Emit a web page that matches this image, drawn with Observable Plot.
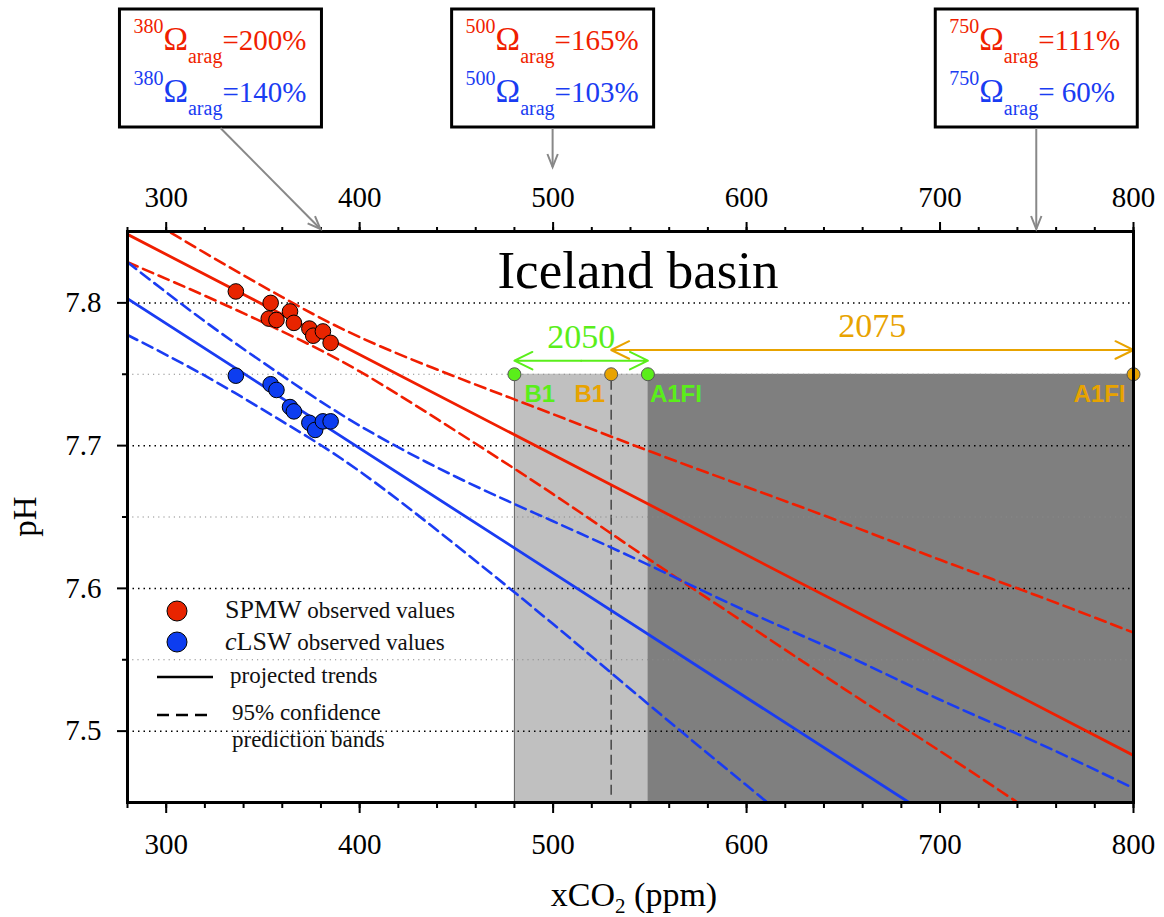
<!DOCTYPE html>
<html><head><meta charset="utf-8">
<script src="https://cdn.jsdelivr.net/npm/d3@7"></script>
<script src="https://cdn.jsdelivr.net/npm/@observablehq/plot@0.6"></script>
<style>html,body{margin:0;padding:0;background:#fff} svg{display:block}
g[aria-label$="tick label"], g[aria-label$="tick label"] text { font-family: 'Liberation Serif', 'Times New Roman', serif !important; }
</style>
</head><body><div id="chart"></div>
<script>
// ---- Observed values ----
const spmwCO2 = [336, 354, 364, 353, 357, 366, 374, 376, 381, 385];
const spmwPH  = [7.808, 7.800, 7.794, 7.789, 7.788, 7.786, 7.782, 7.777, 7.780, 7.772];
const clswCO2 = [336, 354, 357, 364, 366, 374, 377, 381, 385];
const clswPH  = [7.749, 7.743, 7.739, 7.727, 7.724, 7.716, 7.711, 7.717, 7.717];

// ---- Projected trends ----
const spmwTrendCO2 = [280, 800];
const spmwTrendPH  = [7.848, 7.483];
const clswTrendCO2 = [280, 684];
const clswTrendPH  = [7.803, 7.450];

// ---- 95% prediction bands ----
const bandCO2   = [280, 320, 360, 400, 450, 500, 550, 600, 650, 700, 750, 800];
const spmwUpper = [7.8675, 7.835, 7.804, 7.776, 7.748, 7.722, 7.696, 7.671, 7.646, 7.620, 7.595, 7.569];
const spmwLower = [7.8285, 7.805, 7.780, 7.752, 7.710, 7.666, 7.620, 7.575, 7.530, 7.486, 7.441, null];
const clswUpper = [7.8285, 7.787, 7.749, 7.714, 7.678, 7.647, 7.616, 7.584, 7.554, 7.522, 7.492, 7.460];
const clswLower = [7.7775, 7.749, 7.717, 7.682, 7.630, 7.575, 7.518, 7.462, 7.406, null, null, null];

// ---- Scenario zones / points ----
const zoneFrom = [480, 549];
const zoneTo   = [549, 800];
const zoneFill = ["#c0c0c0", "#7f7f7f"];
const scenCO2   = [480, 549, 530, 800];
const scenLabel = ["B1", "A1FI", "B1", "A1FI"];
const scenYear  = ["2050", "2050", "2075", "2075"];
const scenPH = 7.75;
const periodLabel = ["2050", "2075"];
const periodFrom  = [480, 530];
const periodTo    = [549, 800];
const periodPH    = [7.7595, 7.767];

// ---- Saturation boxes ----
const boxCO2  = [380, 500, 750];
const boxRed  = ["=200%", "=165%", "=111%"];
const boxBlue = ["=140%", "=103%", "= 60%"];

// ---- Ticks ----
const xMajor = [300, 400, 500, 600, 700, 800];
const xMinor = d3.range(280, 801, 20);
const yMajor = [7.5, 7.6, 7.7, 7.8];
const yMinor = [7.55, 7.65, 7.75];

const RED = "#f01e00", BLUE = "#1a3cf2", GREEN = "#5aee1a", ORANGE = "#e8a300";
const yearColor = {"2050": GREEN, "2075": ORANGE};
const SERIF = "'Liberation Serif', 'Times New Roman', serif";
const SANS = "'Liberation Sans', Arial, sans-serif";

const band = (vals) => bandCO2.map((c, i) => ({co2: c, ph: vals[i]}));
const pts = (xs, ys) => xs.map((c, i) => ({co2: c, ph: ys[i]}));
const dashed = {strokeWidth: 2.6, strokeDasharray: "11,6", curve: "natural", clip: true};
const scen = scenCO2.map((c, i) => ({co2: c, label: scenLabel[i], color: yearColor[scenYear[i]], i}));
const scenText = {x: "co2", y: () => scenPH, text: "label", fill: "color", fontSize: 24, fontWeight: "bold",
  fontFamily: SANS, lineAnchor: "top", dy: 11};
const axText = {fontSize: 29, fontFamily: SERIF, strokeWidth: 2};

const plot = Plot.plot({
  width: 1164, height: 917,
  marginLeft: 127, marginRight: 31, marginTop: 231, marginBottom: 115,
  x: {domain: [280, 800], label: null},
  y: {domain: [7.45, 7.85], label: null},
  color: {type: "identity"},
  style: {fontFamily: SERIF, background: "white", color: "black"},
  marks: [
    Plot.rect(zoneFrom, {x1: d => d, x2: (d, i) => zoneTo[i], y1: 7.45, y2: scenPH, fill: (d, i) => zoneFill[i]}),
    Plot.ruleX([zoneFrom[0]], {y1: 7.45, y2: scenPH, stroke: "#666", strokeWidth: 1}),
    Plot.ruleX([scenCO2[2]], {y1: 7.455, y2: scenPH, stroke: "#333", strokeWidth: 1.3, strokeDasharray: "10,5"}),
    Plot.ruleY(yMinor, {stroke: "#8a8a8a", strokeWidth: 1.2, strokeDasharray: "1.2,4"}),
    Plot.ruleY(yMajor, {stroke: "black", strokeWidth: 1.5, strokeDasharray: "1.5,4"}),
    Plot.line(band(spmwUpper), {x: "co2", y: "ph", stroke: RED, ...dashed}),
    Plot.line(band(spmwLower), {x: "co2", y: "ph", stroke: RED, ...dashed}),
    Plot.line(band(clswUpper), {x: "co2", y: "ph", stroke: BLUE, ...dashed}),
    Plot.line(band(clswLower), {x: "co2", y: "ph", stroke: BLUE, ...dashed}),
    Plot.line(pts(spmwTrendCO2, spmwTrendPH), {x: "co2", y: "ph", stroke: RED, strokeWidth: 2.8, clip: true}),
    Plot.line(pts(clswTrendCO2, clswTrendPH), {x: "co2", y: "ph", stroke: BLUE, strokeWidth: 2.8, clip: true}),
    Plot.dot(pts(spmwCO2, spmwPH), {x: "co2", y: "ph", r: 7.8, fill: "#e82400", stroke: "black", strokeWidth: 1}),
    Plot.dot(pts(clswCO2, clswPH), {x: "co2", y: "ph", r: 7.8, fill: "#0d3df0", stroke: "black", strokeWidth: 1}),
    Plot.arrow(periodLabel, {x1: (d, i) => (periodFrom[i] + periodTo[i]) / 2, x2: (d, i) => periodFrom[i],
      y1: (d, i) => periodPH[i], y2: (d, i) => periodPH[i], stroke: d => yearColor[d], strokeWidth: 2, headLength: 15, headAngle: 52}),
    Plot.arrow(periodLabel, {x1: (d, i) => (periodFrom[i] + periodTo[i]) / 2, x2: (d, i) => periodTo[i],
      y1: (d, i) => periodPH[i], y2: (d, i) => periodPH[i], stroke: d => yearColor[d], strokeWidth: 2, headLength: 15, headAngle: 52}),
    Plot.text(periodLabel, {x: (d, i) => (periodFrom[i] + periodTo[i]) / 2, y: (d, i) => periodPH[i],
      text: d => d, fill: d => yearColor[d], fontSize: 34, fontFamily: SERIF, lineAnchor: "bottom", dy: -13}),
    Plot.dot(scen, {x: "co2", y: () => scenPH, r: 6.5, fill: "color", stroke: "#555", strokeWidth: 1}),
    Plot.text(scen.filter(d => d.i === 0), {...scenText, textAnchor: "start", dx: 10}),
    Plot.text(scen.filter(d => d.i === 1), {...scenText, textAnchor: "start", dx: 2}),
    Plot.text(scen.filter(d => d.i === 2), {...scenText, textAnchor: "end", dx: -6}),
    Plot.text(scen.filter(d => d.i === 3), {...scenText, textAnchor: "end", dx: -8}),
    Plot.axisX(xMinor, {anchor: "bottom", tickSize: 6, tickFormat: () => "", strokeWidth: 2}),
    Plot.axisX(xMajor, {anchor: "bottom", tickSize: 11, tickPadding: 20, ...axText}),
    Plot.axisX(xMinor, {anchor: "top", tickSize: 5, tickFormat: () => "", strokeWidth: 2}),
    Plot.axisX(xMajor, {anchor: "top", tickSize: 10, tickPadding: 15, ...axText}),
    Plot.axisY(yMinor, {anchor: "left", tickSize: 5, tickFormat: () => "", strokeWidth: 2}),
    Plot.axisY(yMajor, {anchor: "left", tickSize: 10, tickPadding: 16, ...axText, tickFormat: d3.format(".1f")}),
    Plot.frame({stroke: "black", strokeWidth: 3})
  ]
});
document.getElementById("chart").append(plot);

const svg = d3.select(plot);
const sx = plot.scale("x"), sy = plot.scale("y");
const X = v => sx.apply(v), Y = v => sy.apply(v);
const yTop = Y(7.85), yBot = Y(7.45), xLeft = X(280), xRight = X(800);
const txt = (sel) => sel.append("text").style("font-family", SERIF).attr("text-anchor", "start");

// Title
txt(svg).attr("x", (xLeft + xRight) / 2 + 8).attr("y", yTop + 57)
  .attr("text-anchor", "middle").attr("font-size", 53).text("Iceland basin");

// Axis labels
const xl = txt(svg).attr("x", (xLeft + xRight) / 2 + 4).attr("y", 906)
  .attr("text-anchor", "middle").attr("font-size", 34);
xl.append("tspan").text("xCO");
xl.append("tspan").attr("font-size", 21).attr("dy", 7).text("2");
xl.append("tspan").attr("dy", -7).text(" (ppm)");
txt(svg).attr("transform", `translate(36,${(yTop + yBot) / 2}) rotate(-90)`)
  .attr("text-anchor", "middle").attr("font-size", 33).text("pH");

// Legend
const lg = svg.append("g").attr("fill", "#111");
lg.append("circle").attr("cx", 177).attr("cy", 611).attr("r", 10).attr("fill", "#e82400").attr("stroke", "black");
lg.append("circle").attr("cx", 177).attr("cy", 642).attr("r", 10).attr("fill", "#0d3df0").attr("stroke", "black");
const t1 = txt(lg).attr("x", 225).attr("y", 618);
t1.append("tspan").attr("font-size", 26).text("SPMW");
t1.append("tspan").attr("font-size", 23).text(" observed values");
const t2 = txt(lg).attr("x", 225).attr("y", 650);
t2.append("tspan").attr("font-size", 26).attr("font-style", "italic").text("c");
t2.append("tspan").attr("font-size", 26).text("LSW");
t2.append("tspan").attr("font-size", 23).text(" observed values");
lg.append("line").attr("x1", 157).attr("x2", 213).attr("y1", 677).attr("y2", 677).attr("stroke", "black").attr("stroke-width", 2.5);
lg.append("line").attr("x1", 157).attr("x2", 213).attr("y1", 715).attr("y2", 715).attr("stroke", "black").attr("stroke-width", 2.5).attr("stroke-dasharray", "12,7");
txt(lg).attr("x", 230).attr("y", 683).attr("font-size", 23).text("projected trends");
txt(lg).attr("x", 232).attr("y", 720).attr("font-size", 23).text("95% confidence");
txt(lg).attr("x", 232).attr("y", 747).attr("font-size", 23).text("prediction bands");

// Saturation boxes with arrows
const BW = 202, BH = 118, BT = 9;
function arrow(g, x1, y1, x2, y2) {
  g.append("line").attr("x1", x1).attr("y1", y1).attr("x2", x2).attr("y2", y2)
    .attr("stroke", "#888").attr("stroke-width", 2);
  const a = Math.atan2(y2 - y1, x2 - x1), L = 14, h = 0.38;
  const p = s => [x2 - L * Math.cos(a + s * h), y2 - L * Math.sin(a + s * h)];
  const [ax, ay] = p(1), [bx, by] = p(-1);
  g.append("path").attr("d", `M${ax},${ay}L${x2},${y2}L${bx},${by}`)
    .attr("fill", "none").attr("stroke", "#888").attr("stroke-width", 2);
}
boxCO2.forEach((c, i) => {
  const tip = X(c);
  const bl = i === 0 ? tip - BW + 1 : tip - BW / 2;
  const g = svg.append("g");
  g.append("rect").attr("x", bl).attr("y", BT).attr("width", BW).attr("height", BH)
    .attr("fill", "white").attr("stroke", "black").attr("stroke-width", 3);
  const endY = xMajor.includes(c) ? yTop - 64 : yTop - 2;
  arrow(g, bl + BW / 2, BT + BH + 1, tip, endY);
  [[boxRed[i], RED, 41], [boxBlue[i], BLUE, 93]].forEach(([val, col, by]) => {
    const t = txt(g).attr("x", bl + 14).attr("y", BT + by).attr("fill", col).attr("font-size", 30);
    t.append("tspan").attr("font-size", 20).attr("dy", -17).text(String(c));
    t.append("tspan").attr("font-size", 33).attr("dy", 17).text("Ω");
    t.append("tspan").attr("font-size", 20).attr("dy", 13).text("arag");
    t.append("tspan").attr("font-size", 29).attr("dy", -13).attr("style", "white-space:pre").text(val);
  });
});
</script>
</body></html>
